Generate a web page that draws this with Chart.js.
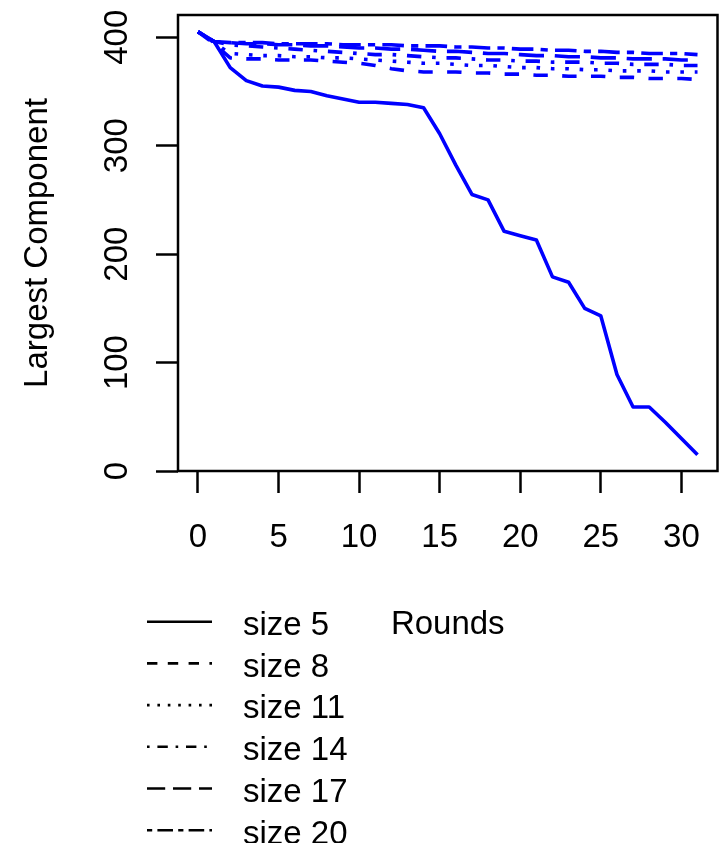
<!DOCTYPE html>
<html>
<head>
<meta charset="utf-8">
<script src="https://cdn.jsdelivr.net/npm/chart.js@4.4.1/dist/chart.umd.min.js"></script>
<style>
  html, body { margin: 0; padding: 0; background: #fff; }
  canvas { display: block; }
</style>
</head>
<body>
<canvas id="chart" width="727" height="843"></canvas>
<script>
// rounds 0..31
const rounds = [0,1,2,3,4,5,6,7,8,9,10,11,12,13,14,15,16,17,18,19,20,21,22,23,24,25,26,27,28,29,30,31];

const seriesNames = ['size 5', 'size 8', 'size 11', 'size 14', 'size 17', 'size 20'];

const size5  = [405,396,372,360,355,354,351,350,346,343,340,340,339,338,335,311,282,255,250,221,217,213,179,174,150,143,89,59,59,45,30,15];
const size8  = [405,394,381,380,380,379,379,379,378,377,376,374,371,369,368,368,368,367,367,366,366,365,365,364,364,364,363,363,362,362,362,361];
const size11 = [405,395,385,384,383,383,382,382,381,381,380,379,378,377,376,376,375,374,374,373,372,372,371,371,370,370,369,369,369,368,368,368];
const size14 = [405,396,393,392,391,390,389,388,387,386,385,384,384,383,382,381,381,380,379,379,378,378,377,377,377,376,376,375,375,375,374,374];
const size17 = [405,396,395,394,394,393,393,392,392,391,390,390,389,389,388,387,387,386,385,385,384,383,383,382,382,381,381,380,380,380,379,379];
const size20 = [405,396,395,395,395,394,394,394,394,393,393,393,393,392,392,392,391,391,390,390,389,389,388,388,387,387,386,386,385,385,385,384];

const xTicks = [0, 5, 10, 15, 20, 25, 30];
const yTicks = [0, 100, 200, 300, 400];

const FONT = '"Liberation Sans", Arial, Helvetica, sans-serif';
const BLUE = '#0000ff';

// R lty patterns in units of line width
const ltys = [[], [4,4], [1,3], [1,3,4,3], [7,3], [2,2,6,2]];
const lwdPlot = 3.6;
const lwdLegend = 2.6;

function dash(i, w) {
    return ltys[i].map(v => v * w);
}

const allSeries = [size5, size8, size11, size14, size17, size20];

const datasets = allSeries.map((vals, i) => ({
    label: seriesNames[i],
    data: rounds.map((r, k) => ({ x: r, y: vals[k] })),
    borderColor: BLUE,
    borderWidth: lwdPlot,
    borderDash: dash(i, lwdPlot),
    borderCapStyle: 'butt',
    borderJoinStyle: 'round',
    pointRadius: 0,
    tension: 0,
    fill: false
}));

// box, rotated y labels, titles and the black legend
const extras = {
    id: 'extras',
    afterDraw(chart) {
        const ctx = chart.ctx;
        const a = chart.chartArea;
        const ys = chart.scales.y;
        ctx.save();

        ctx.strokeStyle = '#000';
        ctx.lineWidth = 2.5;
        ctx.strokeRect(a.left, a.top, a.right - a.left, a.bottom - a.top);

        ctx.fillStyle = '#000';
        ctx.font = '33px ' + FONT;

        // y tick labels, parallel to the axis
        yTicks.forEach(v => {
            const py = ys.getPixelForValue(v);
            ctx.save();
            ctx.translate(127, py);
            ctx.rotate(-Math.PI / 2);
            ctx.textAlign = 'center';
            ctx.textBaseline = 'alphabetic';
            ctx.fillText(String(v), 0, 0);
            ctx.restore();
        });

        // y title
        ctx.save();
        ctx.translate(47, (a.top + a.bottom) / 2);
        ctx.rotate(-Math.PI / 2);
        ctx.textAlign = 'center';
        ctx.textBaseline = 'alphabetic';
        ctx.fillText('Largest Component', 0, 0);
        ctx.restore();

        // x title
        ctx.textAlign = 'center';
        ctx.textBaseline = 'alphabetic';
        ctx.fillText('Rounds', (a.left + a.right) / 2, 634);

        // legend
        ctx.textAlign = 'left';
        seriesNames.forEach((name, i) => {
            const y = 621.7 + i * 41.7;
            ctx.beginPath();
            ctx.lineWidth = lwdLegend;
            ctx.lineCap = 'butt';
            ctx.setLineDash(dash(i, lwdLegend));
            ctx.moveTo(147, y);
            ctx.lineTo(212, y);
            ctx.stroke();
            ctx.setLineDash([]);
            ctx.fillText(name, 243, y + 13.3);
        });

        ctx.restore();
    }
};

new Chart(document.getElementById('chart'), {
    type: 'line',
    data: { datasets },
    options: {
        responsive: false,
        animation: false,
        devicePixelRatio: 1,
        layout: { padding: { top: 15, right: 9.5, left: 0, bottom: 0 } },
        plugins: {
            legend: { display: false },
            tooltip: { enabled: false }
        },
        scales: {
            x: {
                type: 'linear',
                min: -1.24,
                max: 32.24,
                afterBuildTicks: s => { s.ticks = xTicks.map(v => ({ value: v })); },
                afterFit: s => { s.height = 372; },
                border: { display: false },
                grid: {
                    drawOnChartArea: false,
                    drawTicks: true,
                    tickLength: 22,
                    tickColor: '#000',
                    tickWidth: 2.5
                },
                ticks: {
                    color: '#000',
                    font: { family: FONT, size: 33 },
                    padding: 25,
                    maxRotation: 0,
                    autoSkip: false
                }
            },
            y: {
                type: 'linear',
                min: 0,
                max: 420.5,
                afterBuildTicks: s => { s.ticks = yTicks.map(v => ({ value: v })); },
                afterFit: s => { s.width = 178; },
                border: { display: false },
                grid: {
                    drawOnChartArea: false,
                    drawTicks: true,
                    tickLength: 22,
                    tickColor: '#000',
                    tickWidth: 2.5
                },
                ticks: { display: false }
            }
        }
    },
    plugins: [extras]
});
</script>
</body>
</html>
